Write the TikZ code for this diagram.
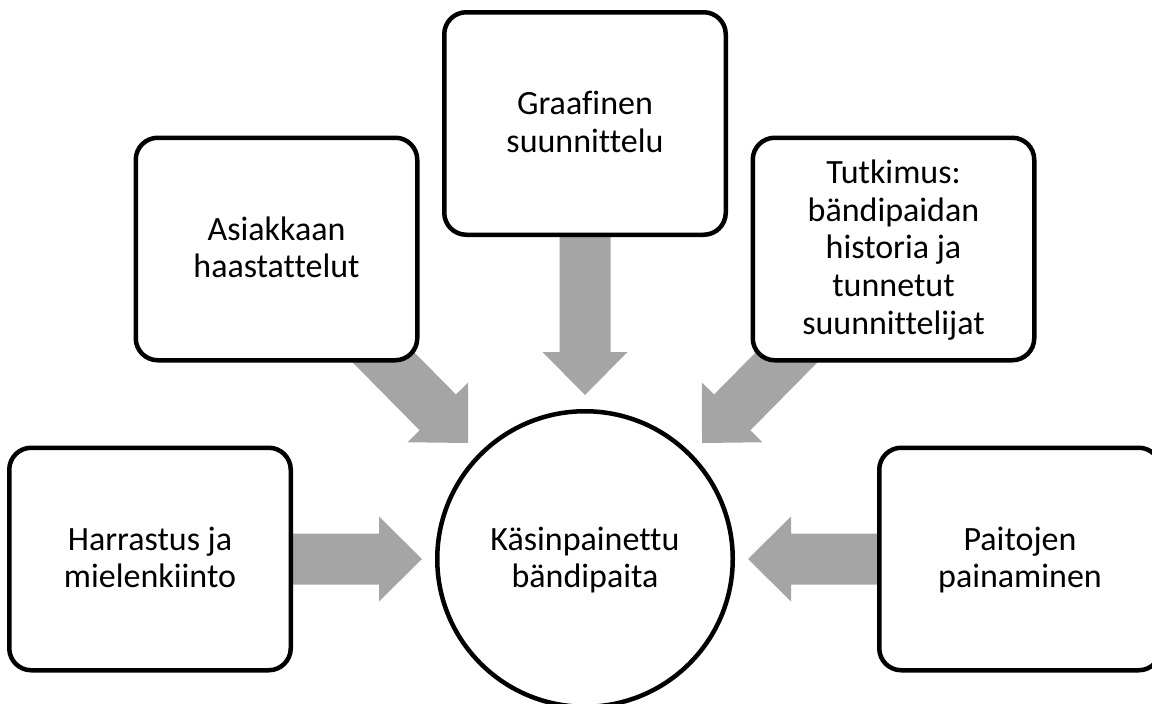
\documentclass[tikz,border=0pt]{standalone}
\usepackage{fontspec}
\setmainfont{Carlito}[Ligatures=NoCommon]
\usetikzlibrary{calc,backgrounds}
\definecolor{arrowgray}{HTML}{A5A5A5}
\newcommand\lstrut{\rule[-9pt]{0pt}{37.7pt}}
\newcommand\myblockarrow[2]{%
  \path ($(#2)!43pt!(#1)$) coordinate (hb);
  \fill[arrowgray] ($(#1)!25.5pt!90:(#2)$) -- ($(hb)!25.5pt!-90:(#1)$) -- ($(hb)!42.5pt!-90:(#1)$)
    -- (#2) -- ($(hb)!42.5pt!90:(#1)$) -- ($(hb)!25.5pt!90:(#1)$) -- ($(#1)!25.5pt!-90:(#2)$) -- cycle;
}
\tikzset{
  txt/.style={align=center, font=\fontsize{34}{37.7}\selectfont, inner sep=0pt, text=black},
  box/.style={txt, draw=black, line width=4.5pt, rounded corners=22pt, fill=white,
    minimum width=281.5pt, minimum height=222.5pt},
  hub/.style={txt, circle, draw=black, line width=4.5pt, fill=white, minimum size=295.5pt},
}
\begin{document}
\begin{tikzpicture}[x=1pt, y=-1pt]
\useasboundingbox (0,0) rectangle (1152,704);
\node[hub] (c) at (585,559) {\lstrut K\"asinpainettu\\\lstrut b\"andipaita};
\node[box] (b1) at (150,559) {\lstrut Harrastus ja\\\lstrut mielenkiinto};
\node[box] (b2) at (276.5,249) {\lstrut Asiakkaan\\\lstrut haastattelut};
\node[box] (b3) at (585,123.5) {\lstrut Graafinen\\\lstrut suunnittelu};
\node[box] (b4) at (893.5,249) {\lstrut Tutkimus:\\\lstrut b\"andipaidan\\\lstrut historia ja\\\lstrut tunnetut\\\lstrut suunnittelijat};
\node[box] (b5) at (1020,559) {\lstrut Paitojen\\\lstrut painaminen};
\coordinate (p1) at (422,559);
\coordinate (p2) at (468,443);
\coordinate (p3) at (585,395);
\coordinate (p4) at (702,443);
\coordinate (p5) at (748,559);
\begin{scope}[on background layer]
  \myblockarrow{b1.center}{p1}
  \myblockarrow{b2.center}{p2}
  \myblockarrow{b3.center}{p3}
  \myblockarrow{b4.center}{p4}
  \myblockarrow{b5.center}{p5}
\end{scope}
\end{tikzpicture}
\end{document}
